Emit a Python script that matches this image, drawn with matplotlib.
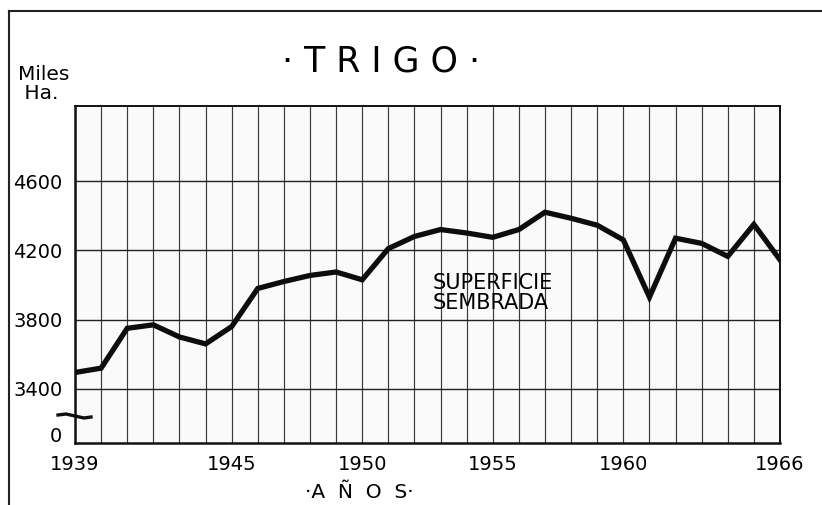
import numpy as np
import matplotlib.pyplot as plt
from matplotlib.lines import Line2D

# superficie sembrada de trigo (miles de Ha.)
years = np.arange(1939, 1967)
area = [3495, 3520, 3750, 3770, 3700, 3660, 3760, 3980, 4020, 4055,
        4075, 4030, 4210, 4280, 4320, 4300, 4275, 4320, 4420, 4385,
        4345, 4260, 3930, 4270, 4240, 4165, 4350, 4145]

ytick_vals = [3400, 3800, 4200, 4600]
xtick_labels = [1939, 1945, 1950, 1955, 1960, 1966]

plt.rcParams['font.family'] = 'DejaVu Sans'

fig = plt.figure(figsize=(8.22, 5.05), dpi=100)
ax = fig.add_axes([75/822, 1 - 443/505, 705/822, 337/505])
ax.set_facecolor('#fafafa')

ymin, ymax = 3088, 5033

# grid
for yr in years:
    ax.axvline(yr, color='#3a3a3a', lw=0.85, zorder=1)
for v in ytick_vals:
    ax.axhline(v, color='#222222', lw=1.0, zorder=1)

ax.plot(years, area, color='#0d0d0d', lw=3.8, solid_joinstyle='miter', zorder=3)

ax.set_xlim(1939, 1966)
ax.set_ylim(ymin, ymax)

ax.set_yticks(ytick_vals)
ax.set_yticklabels([str(v) for v in ytick_vals], fontsize=14)
ax.tick_params(axis='y', length=0, pad=9)
ax.set_xticks(xtick_labels)
ax.set_xticklabels([str(v) for v in xtick_labels], fontsize=14)
ax.tick_params(axis='x', length=0, pad=9)

for s in ax.spines.values():
    s.set_color('#111111')
    s.set_linewidth(1.4)
ax.spines['left'].set_linewidth(1.8)
ax.spines['bottom'].set_linewidth(1.8)

# "0" at the bottom of the broken axis
ax.text(-0.018, 0.018, '0', transform=ax.transAxes, ha='right', va='center',
        fontsize=14)

# axis break mark
brk = Line2D([58/822, 66/822, 75/822, 84/822, 91/822],
             [1 - 415/505, 1 - 414/505, 1 - 416/505, 1 - 418/505, 1 - 417/505],
             transform=fig.transFigure, color='#111111', lw=2.4)
fig.add_artist(brk)

# titles
fig.text(381/822, 1 - 62/505, '· T R I G O ·', ha='center', va='center',
         fontsize=25)
fig.text(18/822, 1 - 84/505, 'Miles\n Ha.', ha='left', va='center',
         fontsize=14.5, linespacing=0.95)
fig.text(359/822, 1 - 493/505, '·A  Ñ  O  S·', ha='center', va='center',
         fontsize=14.5)
ax.text(1952.7, 3953, 'SUPERFICIE\nSEMBRADA', ha='left', va='center',
        fontsize=15, linespacing=1.0, zorder=4)

# outer frame
fig.add_artist(Line2D([9/822, 9/822], [0, 1 - 11/505],
                      transform=fig.transFigure, color='#222222', lw=1.5))
fig.add_artist(Line2D([9/822, 1], [1 - 11/505, 1 - 11/505],
                      transform=fig.transFigure, color='#222222', lw=1.5))

fig.savefig('out.png', dpi=100)
